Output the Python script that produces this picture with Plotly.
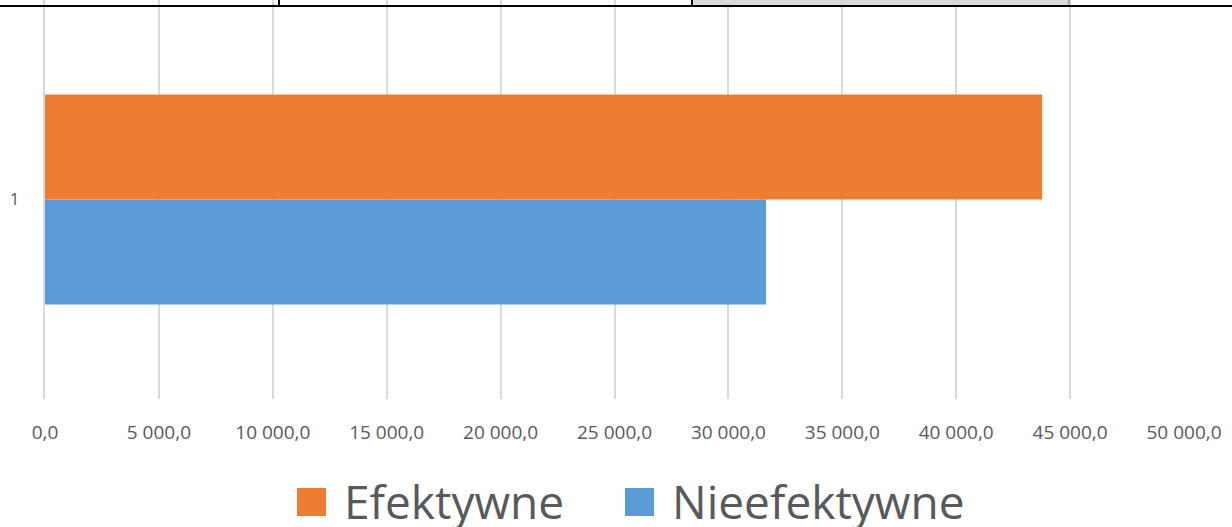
import plotly.graph_objects as go

# ---- data ----
categories = ["1"]
series_names = ["Efektywne", "Nieefektywne"]
efektywne = [43770.0]
nieefektywne = [31650.0]
series_colors = ["#ED7D31", "#5B9BD5"]
tick_values = [0, 5000, 10000, 15000, 20000, 25000, 30000, 35000, 40000, 45000, 50000]
tick_labels = ["0,0", "5 000,0", "10 000,0", "15 000,0", "20 000,0", "25 000,0",
               "30 000,0", "35 000,0", "40 000,0", "45 000,0", "50 000,0"]

W, H = 1232, 527
L, R, T, B = 45, 48, 0, 128
PW, PH = W - L - R, H - T - B

def px(x):
    return (x - L) / PW

def py(y):
    return (H - B - y) / PH

fig = go.Figure()
# plotly stacks horizontal grouped bars bottom-up: add lower bar first
fig.add_trace(go.Bar(y=categories, x=nieefektywne, orientation="h", name=series_names[1],
                     marker=dict(color=series_colors[1], line=dict(width=0)), showlegend=False))
fig.add_trace(go.Bar(y=categories, x=efektywne, orientation="h", name=series_names[0],
                     marker=dict(color=series_colors[0], line=dict(width=0)), showlegend=False))

font_color = "#595959"
font_family = "Open Sans"

shapes = [
    # cropped table border artifacts at the top
    dict(type="rect", xref="paper", yref="paper", x0=px(692), x1=px(1069), y0=py(5), y1=py(-1),
         fillcolor="#D9D9D9", line=dict(width=0), layer="above"),
    dict(type="line", xref="paper", yref="paper", x0=px(1069), x1=px(1069), y0=py(6), y1=py(-1),
         line=dict(color="#A6A6A6", width=2), layer="above"),
    dict(type="line", xref="paper", yref="paper", x0=px(0), x1=px(1232), y0=py(6), y1=py(6),
         line=dict(color="#000000", width=2), layer="above"),
    dict(type="line", xref="paper", yref="paper", x0=px(279), x1=px(279), y0=py(6), y1=py(-1),
         line=dict(color="#000000", width=2), layer="above"),
    dict(type="line", xref="paper", yref="paper", x0=px(692), x1=px(692), y0=py(6), y1=py(-1),
         line=dict(color="#000000", width=2), layer="above"),
]

# manual legend (large)
legend_items = [
    (series_names[0], series_colors[0], 297, 342),
    (series_names[1], series_colors[1], 625, 670),
]
annotations = []
for name, color, sq_x, tx_x in legend_items:
    shapes.append(dict(type="rect", xref="paper", yref="paper",
                       x0=px(sq_x), x1=px(sq_x + 29), y0=py(516), y1=py(488),
                       fillcolor=color, line=dict(width=0)))
    annotations.append(dict(xref="paper", yref="paper", x=px(tx_x), y=py(501),
                            xanchor="left", yanchor="middle", showarrow=False, text=name,
                            font=dict(family=font_family, size=46, color=font_color)))

fig.update_layout(
    width=W, height=H,
    margin=dict(l=L, r=R, t=T, b=B, pad=0, autoexpand=False),
    paper_bgcolor="white", plot_bgcolor="white",
    barmode="group", bargap=0.474, bargroupgap=0,
    showlegend=False,
    shapes=shapes, annotations=annotations,
    font=dict(family=font_family, color=font_color),
    xaxis=dict(range=[0, 50000], tickvals=tick_values, ticktext=tick_labels,
               showgrid=True, gridcolor="#D9D9D9", gridwidth=1.5,
               zeroline=False, showline=False, ticks="",
               tickfont=dict(family=font_family, size=19, color=font_color),
               ticklabelstandoff=20, fixedrange=True),
    yaxis=dict(range=[-0.5, 0.5], showgrid=False, zeroline=False,
               showline=True, linecolor="#D9D9D9", linewidth=2, ticks="",
               tickfont=dict(family=font_family, size=17, color=font_color),
               ticklabelstandoff=20, fixedrange=True),
)

fig.write_html("out.html", config={"displayModeBar": False},
               post_script="document.body.style.margin='0';")
